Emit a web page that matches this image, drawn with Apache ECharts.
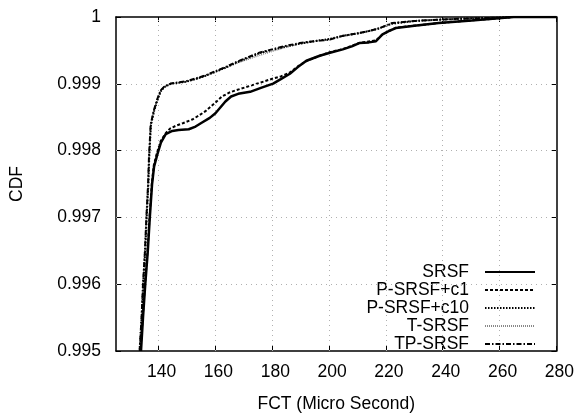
<!DOCTYPE html>
<html>
<head>
<meta charset="utf-8">
<script src="https://cdn.jsdelivr.net/npm/echarts@6/dist/echarts.min.js"></script>
<style>html,body{margin:0;padding:0;background:#fff}#c{width:577px;height:418px}</style>
</head>
<body>
<div id="c"></div>
<script>
var xTicks = [140, 160, 180, 200, 220, 240, 260, 280];
var yTicks = [0.995, 0.996, 0.997, 0.998, 0.999, 1];
var seriesNames = ['SRSF', 'P-SRSF+c1', 'P-SRSF+c10', 'T-SRSF', 'TP-SRSF'];

var srsfX = [133.8,134.5,135.3,136.2,136.9,137.7,138.4,139.6,140.8,142.5,144.8,147,150.6,153,155.3,158,160,163.5,165.5,168,172.2,176,180.3,183,186.2,189,192,196.7,200,204.8,208,210.6,214,216.5,218.8,221,223.5,230,238.6,250.2,259.6,265,280];
var srsfY = [0.995,0.9955,0.996,0.9965,0.997,0.9975,0.99776,0.99795,0.99812,0.998245,0.998295,0.99831,0.99832,0.99836,0.99842,0.99849,0.99856,0.998735,0.99881,0.99885,0.99888,0.99894,0.999003,0.99907,0.99915,0.99925,0.999345,0.99942,0.99946,0.999516,0.99956,0.99961,0.99962,0.999638,0.99974,0.99979,0.999834,0.99987,0.99991,0.999946,0.99998,1,1];

var pc1X = [133.6,134.4,135.2,136.1,136.8,137.6,138.3,139.5,140.8,142.5,144,146,148.5,151.8,154,156.5,159.5,162.3,165,167,172.2,176,180.3,183,186.2,189,192,196.7,200,204.8,210.6,216.5,218.8,223.5,238.6,250.2,259.6,265,280];
var pc1Y = [0.995,0.9955,0.996,0.9965,0.997,0.9975,0.99778,0.99798,0.99815,0.99826,0.99833,0.99837,0.99841,0.998465,0.99852,0.99859,0.9987,0.99881,0.99887,0.9989,0.99897,0.99902,0.99908,0.99911,0.99917,0.99926,0.99934,0.99942,0.99947,0.99952,0.99961,0.99965,0.99974,0.99984,0.99991,0.99995,0.99998,1,1];

var pc10X = [133.4,134.1,134.6,135.3,135.8,136.4,136.7,137.3,138.4,139.7,140.8,142,144.3,149.5,153,156.5,160,163.5,167,171,175.7,180.3,185,189.7,195,200.1,205,209.5,214,217.6,222.2,230,238.6,250,259.6,265,280];
var pc10Y = [0.995,0.9955,0.996,0.9965,0.997,0.9975,0.9979,0.99838,0.99859,0.99877,0.99889,0.99895,0.999,0.99903,0.99907,0.99912,0.99918,0.99924,0.99931,0.99938,0.99946,0.99951,0.99956,0.9996,0.99964,0.99967,0.99972,0.99975,0.99979,0.99983,0.9999,0.99994,0.99996,0.99998,0.99999,1,1];

var tX = [133.2,133.9,134.5,135.1,135.6,136.2,136.6,137.2,138.3,139.6,140.7,141.9,144.2,149.5,153,156.5,160,163.5,167,171,175.7,180.3,185,189.7,195,200.1,205,209.5,214,217.6,222.2,230,238.6,250,259.6,265,280];
var tY = [0.995,0.9955,0.996,0.9965,0.997,0.9975,0.9979,0.99839,0.9986,0.99878,0.9989,0.998955,0.999,0.99903,0.99907,0.99912,0.99918,0.99924,0.9993,0.99936,0.99943,0.99949,0.99955,0.9996,0.99964,0.99966,0.99972,0.99975,0.99979,0.99983,0.99991,0.99994,0.99996,0.99998,0.99999,1,1];

var tpX = [133.3,134,134.5,135.2,135.7,136.3,136.6,137.2,138.3,139.6,140.7,141.9,144.2,149.5,153,156.5,160,163.5,167,171,175.7,180.3,185,189.7,195,200.1,205,209.5,214,217.6,222.2,230,238.6,250,259.6,265,280];
var tpY = [0.995,0.9955,0.996,0.9965,0.997,0.9975,0.9979,0.99839,0.9986,0.99878,0.9989,0.998955,0.999003,0.999037,0.99908,0.999125,0.99919,0.99925,0.99932,0.99939,0.99947,0.99952,0.99957,0.99961,0.99964,0.99966,0.99972,0.99975,0.99979,0.99983,0.99991,0.99994,0.99996,0.99998,0.99999,1,1];

function zip(xs, ys) { return xs.map(function (x, i) { return [x, ys[i]]; }); }

var FONT = 'Liberation Sans, Arial, Helvetica, sans-serif';
var FS = 17.5;
var X_MIN = 125, X_MAX = 280, Y_MIN = 0.995, Y_MAX = 1;
var chart = echarts.init(document.getElementById('c'));

function mkX(pos, showLabel) {
  return {
    type: 'value', position: pos, min: X_MIN, max: X_MAX,
    name: showLabel ? 'FCT (Micro Second)' : '',
    nameLocation: 'middle', nameGap: 44,
    nameTextStyle: { fontFamily: FONT, fontSize: FS, color: '#000' },
    axisLine: { show: true, onZero: false, lineStyle: { color: '#000', width: 1.5 } },
    axisTick: { show: true, inside: true, length: 5, customValues: xTicks, lineStyle: { color: '#000' } },
    axisLabel: { show: showLabel, customValues: xTicks, fontFamily: FONT, fontSize: FS, color: '#000', margin: 12, padding: [0, 0, 0, 6] },
    splitLine: { show: false }
  };
}
function mkY(pos, showLabel) {
  return {
    type: 'value', position: pos, min: Y_MIN, max: Y_MAX,
    name: showLabel ? 'CDF' : '',
    nameLocation: 'middle', nameGap: 90,
    nameTextStyle: { fontFamily: FONT, fontSize: FS, color: '#000' },
    axisLine: { show: true, onZero: false, lineStyle: { color: '#000', width: 1.5 } },
    axisTick: { show: true, inside: true, length: 5, customValues: yTicks, lineStyle: { color: '#000' } },
    axisLabel: { show: showLabel, customValues: yTicks, fontFamily: FONT, fontSize: FS, color: '#000', margin: 15,
      formatter: function (v) { return Math.abs(v - 1) < 1e-9 ? '1' : v.toFixed(3); } },
    splitLine: { show: false }
  };
}

function ser(name, xs, ys, color, width, type, z) {
  return {
    name: name, type: 'line', xAxisIndex: 0, yAxisIndex: 0,
    data: zip(xs, ys), symbol: 'none', smooth: false, z: z,
    lineStyle: { color: color, width: width, type: type },
    itemStyle: { color: color },
    emphasis: { disabled: true }
  };
}

var gridMarks = [];
xTicks.forEach(function (v) { if (v < X_MAX) gridMarks.push([{ coord: [v, Y_MIN] }, { coord: [v, Y_MAX] }]); });
yTicks.forEach(function (v) { if (v > Y_MIN && v < Y_MAX) gridMarks.push([{ coord: [X_MIN, v] }, { coord: [X_MAX, v] }]); });

chart.setOption({
  animation: false,
  backgroundColor: '#fff',
  grid: { left: 115, right: 19, top: 17, bottom: 60, containLabel: false },
  xAxis: [mkX('bottom', true), mkX('top', false)],
  yAxis: [mkY('left', true), mkY('right', false)],
  legend: {
    orient: 'vertical', right: 41, bottom: 65, align: 'right', padding: 0,
    itemWidth: 50, itemHeight: 12, itemGap: 0,
    itemStyle: { opacity: 0 },
    textStyle: { fontFamily: FONT, fontSize: FS, color: '#000', padding: [0, 11, 0, 0] },
    data: seriesNames
  },
  series: [
    {
      name: 'grid', type: 'line', data: [[X_MIN, Y_MIN]], symbol: 'none', silent: true, z: 1,
      lineStyle: { opacity: 0 },
      markLine: {
        silent: true, symbol: 'none', animation: false,
        label: { show: false },
        lineStyle: { color: '#b0b0b0', type: [1, 4], width: 1 },
        emphasis: { disabled: true },
        data: gridMarks
      }
    },
    ser(seriesNames[0], srsfX, srsfY, '#000', 2.5, 'solid', 5),
    ser(seriesNames[1], pc1X, pc1Y, '#000', 2, [3, 2], 4),
    ser(seriesNames[2], pc10X, pc10Y, '#000', 2, [1.5, 1.5], 3),
    ser(seriesNames[3], tX, tY, '#888', 1.5, [1, 1], 2),
    ser(seriesNames[4], tpX, tpY, '#000', 2, [5, 2, 1.5, 2], 6)
  ]
});
</script>
</body>
</html>
